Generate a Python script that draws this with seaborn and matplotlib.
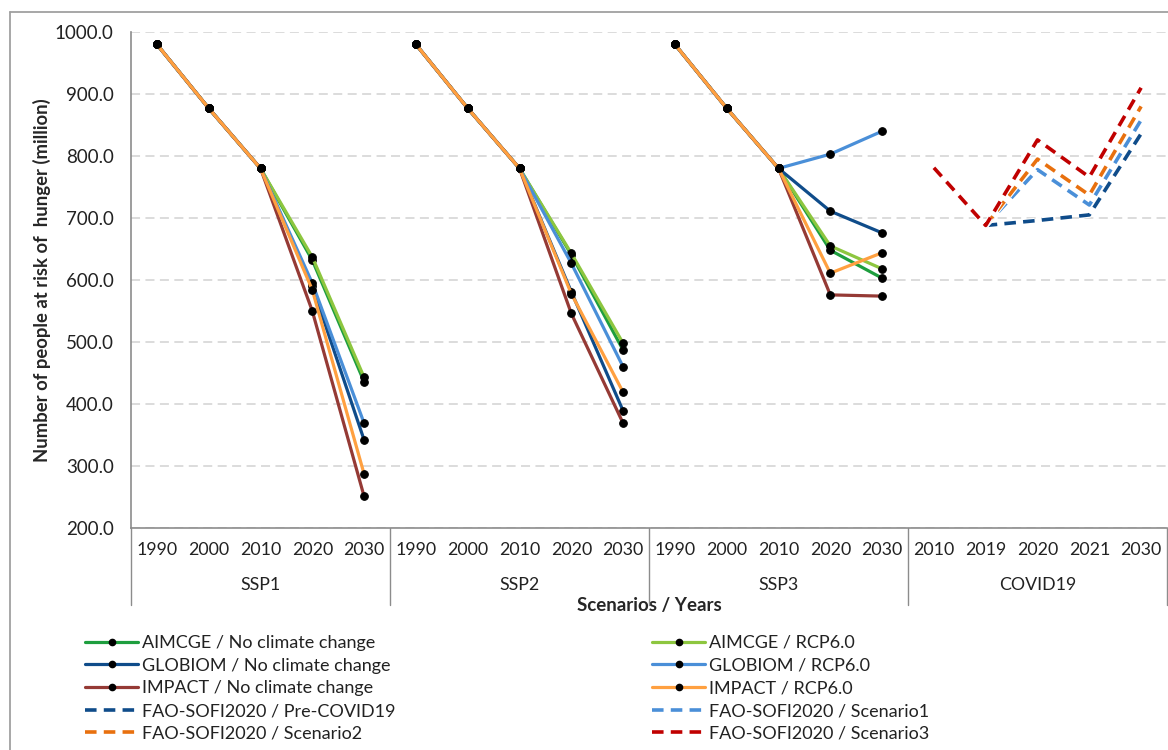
import numpy as np
import pandas as pd
import seaborn as sns
import matplotlib.pyplot as plt
from matplotlib.lines import Line2D
import matplotlib.patheffects as pe

sns.set_style('white')
plt.rcParams['font.family'] = ['Lato', 'DejaVu Sans']

scenarios = ['SSP1', 'SSP2', 'SSP3', 'COVID19']
ssp_years = ['1990', '2000', '2010', '2020', '2030']
covid_years = ['2010', '2019', '2020', '2021', '2030']

# model projections: SSP1, SSP2, SSP3 blocks of 1990/2000/2010/2020/2030
aimcge_nocc = [980, 877, 780, 632, 436, 980, 877, 780, 641, 487, 980, 877, 780, 648, 603]
aimcge_rcp60 = [980, 877, 780, 637, 443, 980, 877, 780, 643, 498, 980, 877, 780, 655, 618]
globiom_nocc = [980, 877, 780, 590, 342, 980, 877, 780, 581, 389, 980, 877, 780, 711, 676]
globiom_rcp60 = [980, 877, 780, 595, 369, 980, 877, 780, 627, 460, 980, 877, 780, 803, 840]
impact_nocc = [980, 877, 780, 550, 251, 980, 877, 780, 546, 369, 980, 877, 780, 576, 574]
impact_rcp60 = [980, 877, 780, 584, 287, 980, 877, 780, 578, 419, 980, 877, 780, 611, 644]

# FAO SOFI 2020: 2010 / 2019 / 2020 / 2021 / 2030
sofi_pre_covid = [np.nan, 688, 696, 705, 836]
sofi_scenario1 = [np.nan, 688, 778, 721, 858]
sofi_scenario2 = [np.nan, 688, 795, 737, 880]
sofi_scenario3 = [781, 688, 826, 766, 910]

model_labels = ['AIMCGE / No climate change', 'AIMCGE / RCP6.0',
                'GLOBIOM / No climate change', 'GLOBIOM / RCP6.0',
                'IMPACT / No climate change', 'IMPACT / RCP6.0']
model_values = [aimcge_nocc, aimcge_rcp60, globiom_nocc, globiom_rcp60, impact_nocc, impact_rcp60]
model_colors = ['#1E9E3E', '#8DC63F', '#0F4C8A', '#4A8FD8', '#953A35', '#FFA040']

covid_labels = ['FAO-SOFI2020 / Pre-COVID19', 'FAO-SOFI2020 / Scenario1',
                'FAO-SOFI2020 / Scenario2', 'FAO-SOFI2020 / Scenario3']
covid_values = [sofi_pre_covid, sofi_scenario1, sofi_scenario2, sofi_scenario3]
covid_colors = ['#0F4C8A', '#4A8FD8', '#E8700E', '#C00000']

rows = []
for lab, vals in zip(model_labels, model_values):
    for k, v in enumerate(vals):
        rows.append({'pos': k, 'value': v, 'series': lab, 'block': k // 5})
models = pd.DataFrame(rows)

rows = []
for lab, vals in zip(covid_labels, covid_values):
    for k, v in enumerate(vals):
        rows.append({'pos': 15 + k, 'value': v, 'series': lab})
covid = pd.DataFrame(rows).dropna()

gray = '#8C8C8C'
fig = plt.figure(figsize=(11.68, 7.5), dpi=100)
ax = fig.add_axes([131 / 1168, 1 - 528 / 750, 1036 / 1168, 496 / 750])

sns.lineplot(data=models, x='pos', y='value', hue='series', hue_order=model_labels,
             palette=dict(zip(model_labels, model_colors)), units='block', estimator=None,
             sort=False, marker='o', markersize=5.5, markerfacecolor='black',
             markeredgecolor='black', linewidth=2.3, legend=False, ax=ax)

dash_style = (0, (3.2, 2.0))
halo = [pe.Stroke(linewidth=4.2, foreground='white'), pe.Normal()]
sns.lineplot(data=covid, x='pos', y='value', hue='series', hue_order=covid_labels,
             palette=dict(zip(covid_labels, covid_colors)), estimator=None, sort=False,
             linewidth=2.6, linestyle=dash_style, path_effects=halo, legend=False, ax=ax)

ax.set_xlim(-0.5, 19.5)
ax.set_ylim(200, 1000)
ax.set_yticks(np.arange(200, 1001, 100))
ax.set_yticklabels([f'{v:.1f}' for v in np.arange(200, 1001, 100)])
ax.grid(axis='y', color='#D9D9D9', linestyle=(0, (5, 3)), linewidth=1.3)
ax.grid(axis='x', visible=False)
ax.set_axisbelow(True)
for s in ['top', 'right']:
    ax.spines[s].set_visible(False)
for s in ['left', 'bottom']:
    ax.spines[s].set_color(gray)
    ax.spines[s].set_linewidth(1.2)

ax.tick_params(axis='y', length=4.5, width=1, color=gray, labelsize=13.5, pad=8, labelcolor='#222222')
ax.set_xticks(range(20))
ax.set_xticklabels(ssp_years * 3 + covid_years)
ax.set_xticks(np.arange(-0.5, 20, 1), minor=True)
ax.tick_params(axis='x', which='major', length=0, labelsize=12.8, pad=10, labelcolor='#222222')
ax.tick_params(axis='x', which='minor', length=29, width=1, color=gray)

xt = ax.get_xaxis_transform()
for b in [-0.5, 4.5, 9.5, 14.5, 19.5]:
    ax.plot([b, b], [0, -0.155], transform=xt, clip_on=False, color=gray, lw=1)
for i, name in enumerate(scenarios):
    ax.text(2 + 5 * i, -0.115, name, transform=xt, ha='center', va='center',
            fontsize=12.8, color='#222222')

ax.set_xlabel('Scenarios / Years', fontweight='bold', fontsize=13.5)
ax.xaxis.set_label_coords(0.5, -0.157)
ax.xaxis.label.set_va('center')
ax.set_ylabel('Number of people at risk of  hunger (million)', fontweight='bold', fontsize=13.3)
ax.yaxis.set_label_coords(-0.086, 0.5)
ax.yaxis.label.set_va('center')

# outer frame
fig.add_artist(Line2D([10 / 1168, 10 / 1168], [0, 1 - 12 / 750], color='#A0A0A0', lw=1.3))
fig.add_artist(Line2D([10 / 1168, 1], [1 - 12 / 750, 1 - 12 / 750], color='#A0A0A0', lw=1.3))

def model_handle(c):
    return Line2D([], [], color=c, lw=2.3, marker='o', ms=4.5, mfc='black', mec='black')

def covid_handle(c):
    return Line2D([], [], color=c, lw=2.6, linestyle=dash_style)

h_left = [model_handle(model_colors[0]), model_handle(model_colors[2]), model_handle(model_colors[4]),
          covid_handle(covid_colors[0]), covid_handle(covid_colors[2])]
l_left = [model_labels[0], model_labels[2], model_labels[4], covid_labels[0], covid_labels[2]]
h_right = [model_handle(model_colors[1]), model_handle(model_colors[3]), model_handle(model_colors[5]),
           covid_handle(covid_colors[1]), covid_handle(covid_colors[3])]
l_right = [model_labels[1], model_labels[3], model_labels[5], covid_labels[1], covid_labels[3]]

leg_kw = dict(loc='upper left', frameon=False, fontsize=13, handlelength=2.95, handletextpad=0.2,
              labelspacing=0.37, borderpad=0, borderaxespad=0, labelcolor='#222222')
fig.legend(h_left, l_left, bbox_to_anchor=(85 / 1168, 1 - 635 / 750), **leg_kw)
fig.legend(h_right, l_right, bbox_to_anchor=(652 / 1168, 1 - 635 / 750), **leg_kw)

fig.savefig('out.png', dpi=100)
